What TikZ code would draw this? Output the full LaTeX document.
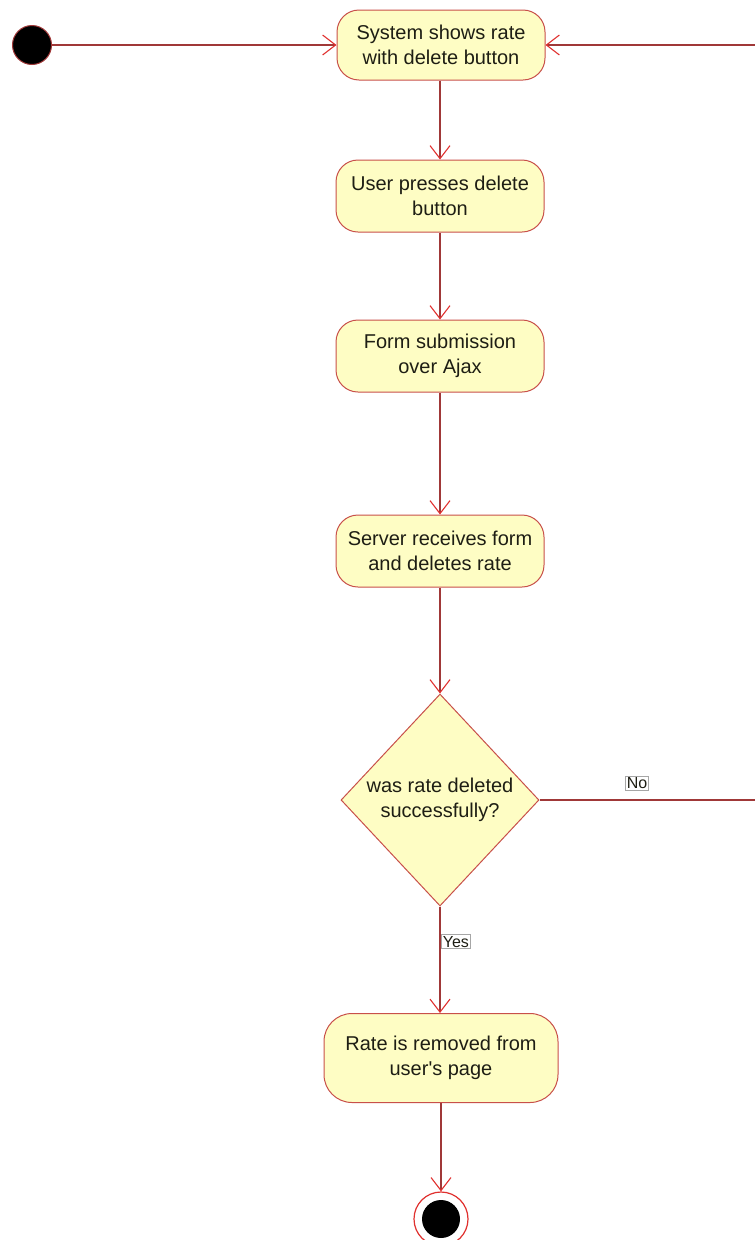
\documentclass[tikz,border=0pt]{standalone}
\usepackage{fontspec}
\setmainfont{Liberation Sans}[Ligatures=TeXOff]
\usetikzlibrary{arrows.meta,shapes.geometric}
\definecolor{actfill}{HTML}{FEFDC4}
\definecolor{actdraw}{HTML}{C8504A}
\definecolor{flow}{HTML}{A03838}
\definecolor{tipred}{HTML}{E0302E}
\definecolor{txt}{HTML}{1E1E14}
\tikzset{
  x=1pt, y=-1pt,
  activity/.style={draw=actdraw, fill=actfill, line width=1pt, rounded corners=22pt,
    minimum width=208pt, minimum height=72pt, align=center, text=txt, inner sep=0pt,
    font=\fontsize{20}{25}\selectfont},
  decision/.style={diamond, draw=actdraw, fill=actfill, line width=1pt, aspect=0.93,
    minimum width=198pt, minimum height=212pt, align=center, text=txt, inner sep=0pt,
    font=\fontsize{20}{25}\selectfont},
  flowline/.style={draw=flow, line width=1.2pt,
    -{Straight Barb[length=13pt, width=20pt, color=tipred, line width=1.1pt]}},
  guard/.style={draw=gray!70, fill=white, text=txt, inner sep=1.5pt, line width=0.6pt,
    font=\fontsize{16}{18}\selectfont},
}
\begin{document}
\begin{tikzpicture}
\useasboundingbox (0,0) rectangle (755,1240);

% initial and final states
\node[circle, fill=black, draw=flow, line width=1pt, minimum size=39pt, inner sep=0pt] (start) at (32,45) {};
\node[circle, draw=tipred, line width=1.2pt, fill=white, minimum size=54pt, inner sep=0pt] (stop) at (441,1219) {};
\node[circle, fill=black, minimum size=38pt, inner sep=0pt] (stopdot) at (441,1219) {};

% activities
\node[activity, minimum width=208pt, minimum height=70pt] (show) at (441,45) {System shows rate\\with delete button};
\node[activity] (press) at (440,196) {User presses delete\\button};
\node[activity] (submit) at (440,356) {Form submission\\over Ajax};
\node[activity] (server) at (440,551) {Server receives form\\and deletes rate};
\node[decision] (check) at (440,800) {was rate deleted\\successfully?};
\node[activity, minimum width=234pt, minimum height=89pt, rounded corners=28pt] (removed) at (441,1058) {Rate is removed from\\user's page};

% control flow
\coordinate (noturn) at (758,800);
\coordinate (noback) at (758,45);
\draw[flowline] (start) -- (show);
\draw[flowline] (show.south -| press.north) -- (press.north);
\draw[flowline] (press) -- (submit);
\draw[flowline] (submit) -- (server);
\draw[flowline] (server.south) -- (check.north);
\draw[flowline] (check.south) -- node[guard, pos=0.33, right=1pt] (yes) {Yes} (check.south |- removed.north);
\draw[flowline] (removed) -- (stop);
\draw[flowline] (check.east) -- (noturn) -- (noback) -- (show.east);
\node[guard] (no) at (637,783) {No};
\end{tikzpicture}
\end{document}
